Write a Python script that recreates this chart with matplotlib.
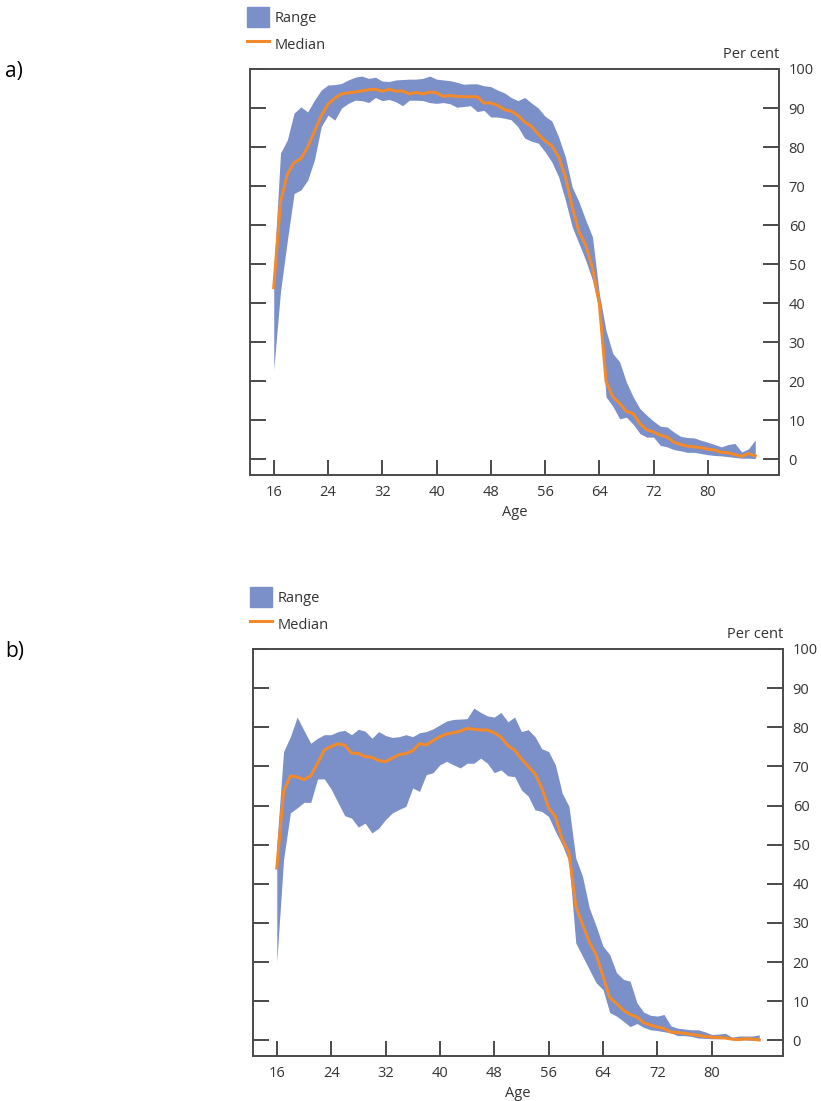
import numpy as np
import matplotlib.pyplot as plt
from matplotlib.patches import Patch
from matplotlib.lines import Line2D

# ages 16..87
ages = np.arange(16, 88)

# panel a)
median_a = [44, 66, 73, 76, 77, 80, 84, 88, 91, 92.5,
            93.6, 93.9, 94.1, 94.4, 94.7, 94.8, 94.3, 94.8, 94.3, 94.4,
            93.6, 94.0, 93.6, 94.1, 93.9, 93.0, 93.2, 93.0, 92.9, 92.9,
            92.9, 91.3, 91.3, 90.7, 89.6, 89.2, 88.1, 86.4, 85.3, 83.3,
            81.6, 80.3, 77.5, 72.4, 64.7, 58.3, 54.9, 49.0, 40.0, 20.0,
            16.0, 14.3, 12.3, 11.7, 9.1, 7.6, 7.0, 6.2, 5.7, 4.4,
            3.8, 3.4, 3.2, 3.0, 2.6, 2.4, 1.8, 1.7, 1.2, 0.8,
            1.5, 0.9]
upper_a = [48, 78.5, 81.8, 88.7, 90.3, 89, 92, 94.6, 95.9, 96,
           96.3, 97.2, 97.9, 98.2, 97.6, 97.9, 96.9, 96.8, 97.2, 97.3,
           97.4, 97.4, 97.6, 98.2, 97.4, 97.2, 97.0, 96.6, 96.1, 96.2,
           96.2, 95.7, 95.5, 94.6, 93.9, 92.7, 91.9, 92.7, 91.3, 90.0,
           87.9, 86.7, 82.6, 77.5, 69.8, 66.0, 61.3, 57.0, 42.5, 33.0,
           27.1, 25.0, 19.8, 16.0, 13.0, 11.3, 9.8, 8.5, 8.3, 7.0,
           5.9, 5.6, 5.5, 4.9, 4.4, 3.8, 3.2, 3.8, 4.1, 1.9,
           2.7, 5.0]
lower_a = [23, 43, 56, 68.1, 69, 71.5, 76.7, 85.2, 88.2, 86.9,
           90, 91.2, 92, 91.9, 91.4, 92.7, 91.9, 92.2, 91.6, 90.6,
           92, 92, 91.9, 91.4, 91.2, 91.4, 91.1, 90.2, 90.4, 90.6,
           89.1, 89.4, 87.7, 87.7, 87.4, 87.0, 85.2, 82.3, 81.5, 81.0,
           78.8, 76.2, 72.4, 66.4, 59.6, 55.3, 51.0, 45.9, 38.2, 16.0,
           13.6, 10.4, 10.8, 9.0, 6.6, 5.7, 5.7, 3.6, 3.2, 2.5,
           2.2, 1.8, 1.8, 1.5, 1.2, 1.0, 0.9, 0.7, 0.5, 0.3,
           0.3, 0.2]

# panel b)
median_b = [44.0, 63.6, 67.6, 67.3, 66.6, 67.6, 70.8, 74.2, 75.1, 75.8,
            75.4, 73.4, 73.3, 72.5, 72.3, 71.5, 71.2, 72.1, 73.0, 73.3,
            74.0, 75.8, 75.5, 76.6, 77.6, 78.3, 78.6, 79.0, 79.7, 79.5,
            79.3, 79.3, 78.6, 77.5, 75.3, 74.2, 71.9, 70.0, 68.1, 64.5,
            59.4, 57.2, 51.3, 47.9, 34.3, 29.6, 25.1, 21.9, 16.4, 10.9,
            9.4, 7.7, 6.6, 6.0, 4.5, 3.9, 3.4, 3.0, 2.1, 2.0,
            1.8, 1.5, 1.3, 1.0, 0.8, 0.7, 0.6, 0.3, 0.2, 0.4,
            0.3, 0.1]
upper_b = [50, 73.8, 77.6, 82.6, 79.2, 75.9, 77.2, 78.1, 78.1, 78.9,
           79.2, 78.1, 79.5, 79.0, 77.2, 78.9, 77.9, 77.4, 77.6, 78.1,
           77.6, 78.6, 78.9, 79.6, 80.6, 81.6, 82.0, 82.1, 82.2, 84.9,
           83.8, 82.9, 82.6, 83.8, 81.4, 82.6, 78.9, 79.4, 77.6, 74.5,
           73.8, 70.4, 63.2, 59.8, 46.6, 41.9, 33.8, 29.2, 24.1, 21.9,
           17.3, 15.6, 15.1, 9.6, 7.2, 6.4, 6.2, 6.6, 3.7, 3.1,
           2.9, 2.7, 2.7, 2.2, 1.5, 1.6, 1.8, 0.8, 1.1, 1.1,
           1.1, 1.4]
lower_b = [20, 46.2, 58.1, 59.4, 60.8, 60.8, 66.8, 66.8, 64.2, 60.8,
           57.4, 56.8, 54.5, 55.5, 53.0, 54.2, 56.4, 58.1, 59.0, 59.8,
           64.5, 63.6, 67.9, 68.4, 70.4, 71.3, 70.4, 69.6, 70.8, 70.8,
           72.1, 70.8, 68.4, 69.1, 67.6, 67.4, 64.0, 62.4, 58.9, 58.5,
           57.2, 53.4, 50.0, 45.7, 24.9, 21.5, 18.1, 14.7, 13.0, 7.1,
           6.2, 4.9, 3.5, 4.3, 3.3, 2.7, 2.5, 2.2, 1.9, 1.2,
           1.2, 1.0, 0.6, 0.5, 0.4, 0.4, 0.5, 0.2, 0.1, 0.1,
           0.0, 0.0]

x_ticks = [16, 24, 32, 40, 48, 56, 64, 72, 80]
y_ticks = list(range(0, 101, 10))

BAND = '#7b8fc8'
ORANGE = '#f28a2c'
FRAME = '#4a4a4a'
TEXT = '#333333'

plt.rcParams['font.family'] = ['Open Sans', 'DejaVu Sans']

W, H = 821, 1101
fig = plt.figure(figsize=(W / 100, H / 100), dpi=100)


def panel(left, top, right, bottom, lower, median, upper, tag):
    ax = fig.add_axes([left / W, 1 - bottom / H, (right - left) / W, (bottom - top) / H])
    ax.fill_between(ages, lower, upper, color=BAND, lw=0)
    ax.plot(ages, median, color=ORANGE, lw=2.2, solid_joinstyle='round')
    ax.set_xlim(12.5, 90.5)
    ax.set_ylim(-4, 100)
    ax.set_xticks(x_ticks)
    ax.set_yticks(y_ticks)
    ax.tick_params(axis='y', left=True, right=True, labelleft=False, labelright=True,
                   direction='in', length=11.5, width=1.4, color=FRAME,
                   labelsize=10.5, labelcolor=TEXT, pad=7)
    ax.tick_params(axis='x', direction='in', length=11, width=1.4, color=FRAME,
                   labelsize=10.5, labelcolor=TEXT, pad=7)
    for s in ax.spines.values():
        s.set_color(FRAME)
        s.set_linewidth(1.4)
    ax.set_xlabel('Age', fontsize=10.5, color=TEXT, labelpad=4)
    ax.annotate('Per cent', xy=(1, 1), xycoords='axes fraction', xytext=(0, 10.5),
                textcoords='offset points', ha='right', va='center',
                fontsize=10.5, color=TEXT)
    handles = [Patch(color=BAND, label='Range'),
               Line2D([], [], color=ORANGE, lw=2.2, label='Median')]
    fig.legend(handles=handles, loc='upper left',
               bbox_to_anchor=((left - 3) / W, 1 - (top - 62) / H),
               frameon=False, fontsize=10.5, handlelength=1.5, handleheight=1.75,
               handletextpad=0.4, labelspacing=0.45, borderpad=0, borderaxespad=0,
               labelcolor=TEXT)
    fig.text(5 / W, 1 - (top + 2) / H, tag, fontsize=15, va='center', color='black')
    return ax


panel(250, 69, 779, 475, lower_a, median_a, upper_a, 'a)')
panel(253, 649, 783, 1056, lower_b, median_b, upper_b, 'b)')

fig.savefig('out.png', dpi=100)
